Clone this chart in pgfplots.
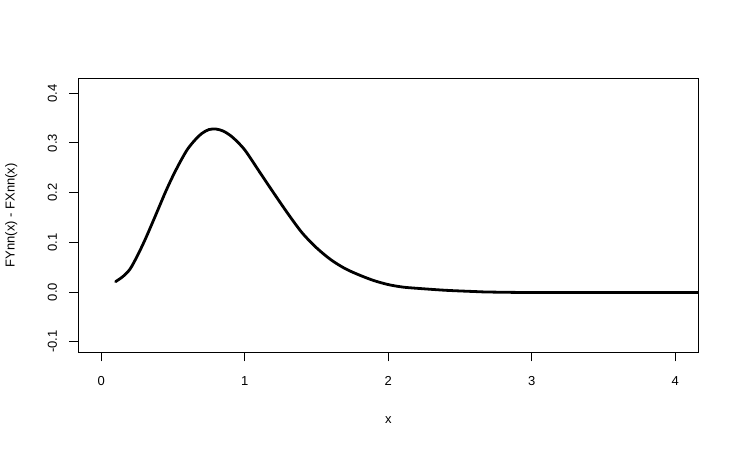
\documentclass[border=0pt]{standalone}
\usepackage{pgfplots}
\pgfplotsset{compat=1.18}
\usepackage{fontspec}
\setmainfont{Liberation Sans}

\begin{document}
\begin{tikzpicture}[font=\fontsize{13}{15}\selectfont]
\useasboundingbox (0pt,0pt) rectangle (740pt,450pt);
\begin{axis}[
    at={(78.3pt,97.7pt)}, anchor=south west,
    scale only axis,
    width=620pt, height=274pt,
    xmin=-0.16, xmax=4.16,
    ymin=-0.1213, ymax=0.4302,
    xtick={0,1,2,3,4},
    xticklabels={0,1,2,3,4},
    ytick={-0.1,0,0.1,0.2,0.3,0.4},
    yticklabels={-0.1,0.0,0.1,0.2,0.3,0.4},
    xtick pos=lower, ytick pos=left,
    tick align=outside,
    major tick length=9pt,
    every tick/.style={black, line width=1pt},
    axis line style={line width=1pt},
    tick label style={font=\fontsize{13}{15}\selectfont},
    label style={font=\fontsize{13}{15}\selectfont},
    xticklabel style={anchor=center, yshift=-20pt},
    yticklabel style={rotate=90, anchor=center, yshift=17pt},
    every axis x label/.style={at={([yshift=-68pt]axis description cs:0.5,0)}, anchor=center},
    every axis y label/.style={at={([xshift=-67pt]axis description cs:0,0.5)}, anchor=center, rotate=90},
    xlabel={x},
    ylabel={FYnn(x) - FXnn(x)},
]
\addplot[black, line width=2.8pt, smooth, line join=round, line cap=round] coordinates {
(0.10,0.021) (0.15,0.031) (0.20,0.046) (0.25,0.072) (0.30,0.102)
(0.35,0.135) (0.40,0.169) (0.45,0.203) (0.50,0.234) (0.55,0.262)
(0.60,0.287) (0.65,0.305) (0.70,0.319) (0.75,0.327) (0.80,0.328)
(0.85,0.324) (0.90,0.315) (0.95,0.302) (1.00,0.286) (1.05,0.265)
(1.10,0.243) (1.20,0.200) (1.30,0.158) (1.40,0.119) (1.50,0.089)
(1.60,0.065) (1.70,0.047) (1.80,0.034) (1.90,0.023) (2.00,0.015)
(2.10,0.010) (2.20,0.0075) (2.40,0.0035) (2.60,0.001) (2.70,0.0)
(3.00,-0.001) (3.50,-0.001) (4.00,-0.001) (4.50,-0.001)
};
\end{axis}
\end{tikzpicture}
\end{document}
